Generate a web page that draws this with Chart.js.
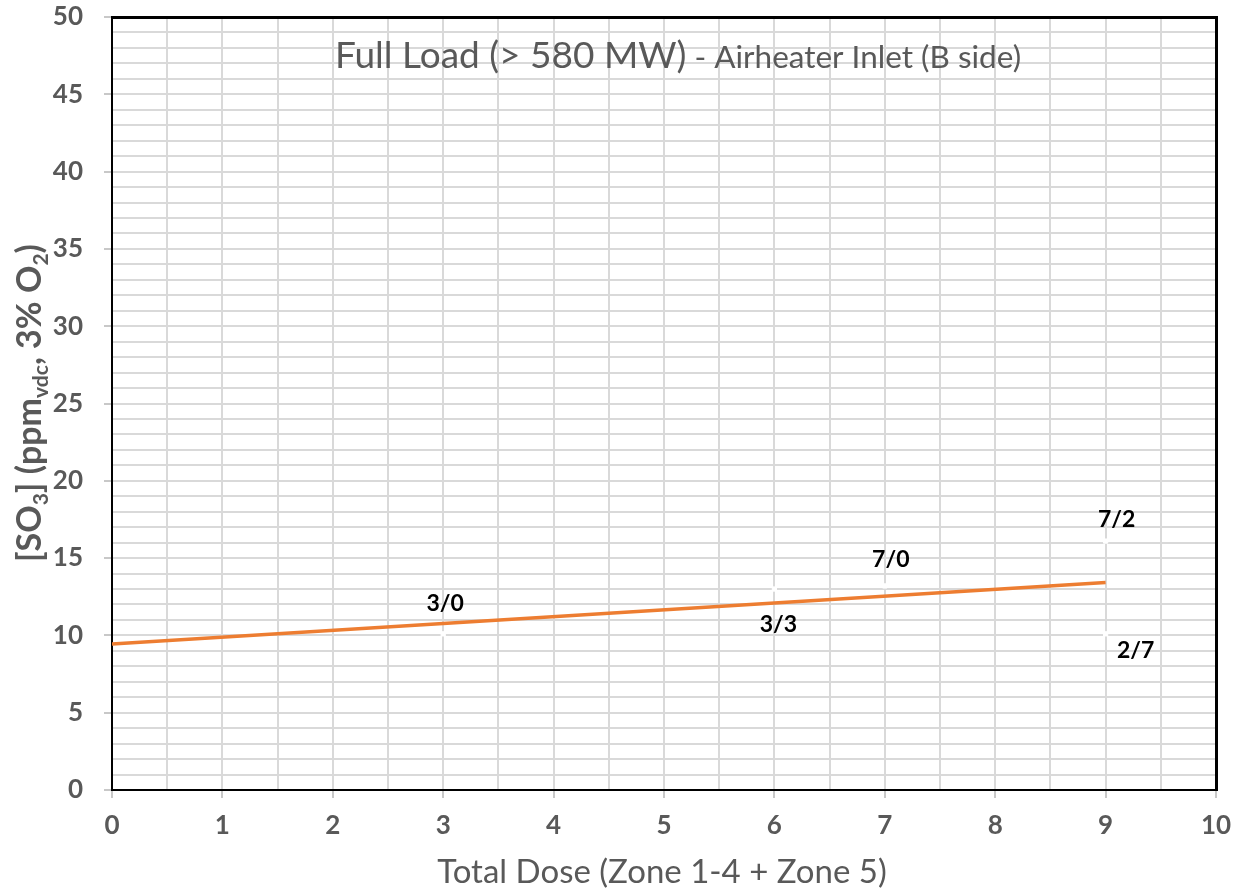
<!DOCTYPE html>
<html>
<head>
<meta charset="utf-8">
<script src="https://cdn.jsdelivr.net/npm/chart.js@4/dist/chart.umd.min.js"></script>
<style>
  html, body { margin: 0; padding: 0; background: #ffffff; }
  #wrap { width: 1235px; height: 892px; }
</style>
</head>
<body>
<div id="wrap"><canvas id="chart" width="1235" height="892"></canvas></div>
<script>
// Measured SO3 at the airheater inlet (B side) per total dose setting
const doseX = [3, 6, 7, 9, 9];
const so3Y = [10.1, 13.0, 13.2, 16.1, 10.1];
const pointLabels = ['3/0', '3/3', '7/0', '7/2', '2/7'];

// Linear trend line end points
const trendX = [0, 9];
const trendY = [9.45, 13.42];

// Labelled tick values
const xTickLabels = ['0', '1', '2', '3', '4', '5', '6', '7', '8', '9', '10'];
const yTickLabels = ['0', '5', '10', '15', '20', '25', '30', '35', '40', '45', '50'];

const chartTitle = 'Full Load (> 580 MW)';
const chartSubtitle = ' - Airheater Inlet (B side)';
const xAxisTitle = 'Total Dose (Zone 1-4 + Zone 5)';
// y-axis title pieces: [text, isSubscript]
const yAxisTitle = [['[SO', false], ['3', true], ['] (ppm', false], ['vdc', true], [', 3% O', false], ['2', true], [')', false]];

// Label placement relative to each marker (dx, dy in px)
const labelOffsets = [[2, -30], [4, 36], [6, -26], [11, -22], [30, 17]];

const FONT = 'Lato, "Open Sans", "DejaVu Sans", sans-serif';
const GREY = '#595959';

const textPlugin = {
  id: 'textPlugin',
  afterDraw(chart) {
    const ctx = chart.ctx;
    const area = chart.chartArea;

    // Plot frame: top and right edges
    ctx.save();
    ctx.strokeStyle = '#000';
    ctx.lineWidth = 3;
    ctx.beginPath();
    ctx.moveTo(area.left, area.top + 0.5);
    ctx.lineTo(area.right + 0.5, area.top + 0.5);
    ctx.lineTo(area.right + 0.5, area.bottom + 1);
    ctx.stroke();
    ctx.restore();

    // Chart title inside the plot
    ctx.save();
    ctx.fillStyle = GREY;
    ctx.textBaseline = 'alphabetic';
    const f1 = '37px ' + FONT, f2 = '31.5px ' + FONT;
    ctx.font = f1; const w1 = ctx.measureText(chartTitle).width;
    ctx.font = f2; const w2 = ctx.measureText(chartSubtitle).width;
    const tx = 678 - (w1 + w2) / 2;
    const ty = 68;
    ctx.font = f1; ctx.fillText(chartTitle, tx, ty);
    ctx.font = f2; ctx.fillText(chartSubtitle, tx + w1, ty);
    ctx.restore();

    // x-axis title
    ctx.save();
    ctx.fillStyle = GREY;
    ctx.font = '33px ' + FONT;
    ctx.textAlign = 'center';
    ctx.textBaseline = 'alphabetic';
    ctx.fillText(xAxisTitle, 662, 883);
    ctx.restore();

    // y-axis title with subscripts, rotated
    ctx.save();
    ctx.fillStyle = GREY;
    ctx.translate(41, 403);
    ctx.rotate(-Math.PI / 2);
    const mainF = 'bold 34px ' + FONT, subF = 'bold 21px ' + FONT;
    let total = 0;
    const widths = yAxisTitle.map(([t, sub]) => {
      ctx.font = sub ? subF : mainF;
      const w = ctx.measureText(t).width;
      total += w;
      return w;
    });
    let x = -total / 2;
    ctx.textBaseline = 'alphabetic';
    yAxisTitle.forEach(([t, sub], i) => {
      ctx.font = sub ? subF : mainF;
      ctx.fillText(t, x, sub ? 7 : 0);
      x += widths[i];
    });
    ctx.restore();
  },
  afterDatasetsDraw(chart) {
    const ctx = chart.ctx;
    const xs = chart.scales.x, ys = chart.scales.y;
    ctx.save();
    ctx.fillStyle = '#000';
    ctx.font = 'bold 23px ' + FONT;
    ctx.textAlign = 'center';
    ctx.textBaseline = 'middle';
    pointLabels.forEach((lab, i) => {
      const px = xs.getPixelForValue(doseX[i]) + labelOffsets[i][0];
      const py = ys.getPixelForValue(so3Y[i]) + labelOffsets[i][1];
      ctx.fillText(lab, px, py);
    });
    ctx.restore();
  }
};

new Chart(document.getElementById('chart'), {
  type: 'scatter',
  data: {
    datasets: [
      {
        label: 'Trend',
        data: trendX.map((x, i) => ({ x, y: trendY[i] })),
        showLine: true,
        borderColor: '#ED7D31',
        borderWidth: 3.5,
        pointRadius: 0,
        fill: false
      },
      {
        label: 'SO3',
        data: doseX.map((x, i) => ({ x, y: so3Y[i] })),
        showLine: false,
        pointStyle: 'rect',
        pointRadius: 3,
        backgroundColor: '#ffffff',
        borderColor: '#ffffff',
        borderWidth: 1
      }
    ]
  },
  plugins: [textPlugin],
  options: {
    responsive: false,
    animation: false,
    devicePixelRatio: 1,
    layout: { padding: 0 },
    plugins: { legend: { display: false }, tooltip: { enabled: false } },
    scales: {
      x: {
        type: 'linear',
        min: 0,
        max: 10,
        afterFit(scale) {
          scale.height = 102;
          scale.paddingLeft = 0;
          scale.paddingRight = 19;
        },
        border: { display: true, color: '#000', width: 2 },
        grid: {
          color: '#d9d9d9',
          lineWidth: 2,
          drawTicks: true,
          tickLength: 8,
          tickColor: (c) => Number.isInteger(c.tick.value) ? '#c8c8c8' : 'rgba(0,0,0,0)'
        },
        ticks: {
          stepSize: 0.5,
          autoSkip: false,
          maxRotation: 0,
          padding: 12,
          color: GREY,
          font: { family: FONT, size: 26, weight: 'bold' },
          callback: (v) => Number.isInteger(v) ? xTickLabels[v] : ''
        }
      },
      y: {
        type: 'linear',
        min: 0,
        max: 50,
        afterFit(scale) {
          scale.width = 112;
          scale.paddingTop = 17;
          scale.paddingBottom = 0;
        },
        border: { display: true, color: '#000', width: 2 },
        grid: {
          color: '#d9d9d9',
          lineWidth: 2,
          drawTicks: true,
          tickLength: 8,
          tickColor: (c) => c.tick.value % 5 === 0 ? '#c8c8c8' : 'rgba(0,0,0,0)'
        },
        ticks: {
          stepSize: 1,
          autoSkip: false,
          padding: 21,
          color: GREY,
          font: { family: FONT, size: 26, weight: 'bold' },
          callback: (v) => v % 5 === 0 ? yTickLabels[v / 5] : ''
        }
      }
    }
  }
});
</script>
</body>
</html>
